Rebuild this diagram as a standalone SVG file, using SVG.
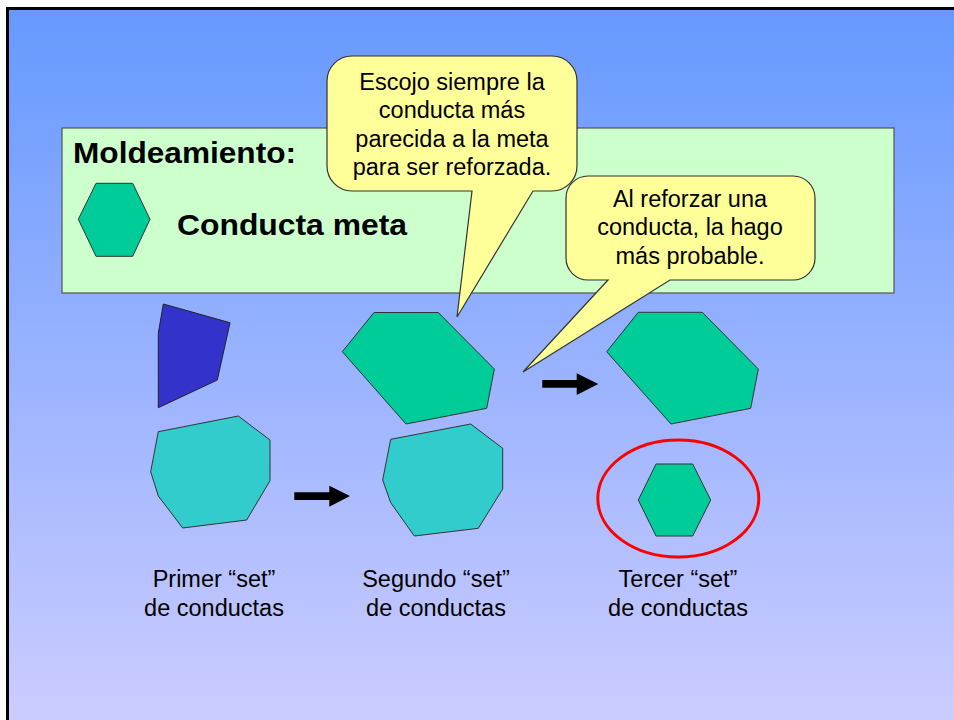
<svg xmlns="http://www.w3.org/2000/svg" width="954" height="720" viewBox="0 0 954 720">
<defs>
<linearGradient id="bg" x1="0" y1="0" x2="0" y2="1">
<stop offset="0" stop-color="#6699FF"/>
<stop offset="1" stop-color="#CCCCFF"/>
</linearGradient>
</defs>
<style>
.t{font-family:"Liberation Sans",Arial,sans-serif;fill:#000}
.call{font-size:23.5px;text-anchor:middle}
.lab{font-size:23.5px;text-anchor:middle}
.hex{fill:#00CC99;stroke:#333333;stroke-width:1}
.cyan{fill:#33CCCC;stroke:#333333;stroke-width:1}
.bubble{fill:#FFFF99;stroke:#333333;stroke-width:1.2}
.arrow{fill:#000}
</style>
<rect x="0" y="0" width="954" height="720" fill="#FFFFFF"/>
<rect x="7.5" y="8.5" width="946.5" height="711.5" fill="url(#bg)"/>
<path d="M7.5,720 V8.5 H954" fill="none" stroke="#000" stroke-width="3"/>

<g id="header">
<rect x="62" y="128" width="832" height="165" fill="#CCFFCC" stroke="#555555" stroke-width="1.2"/>
<text class="t" x="73" y="163" font-size="30" font-weight="bold" textLength="223" lengthAdjust="spacingAndGlyphs">Moldeamiento:</text>
<polygon class="hex" points="78.3,219.3 96,183.3 132.7,183.3 150,219.3 132.7,256.3 96,256.3"/>
<text class="t" x="177" y="235" font-size="30" font-weight="bold" textLength="230" lengthAdjust="spacingAndGlyphs">Conducta meta</text>
</g>

<g id="shape-blue">
<polygon points="163.3,304 230,322.7 217.3,380 158.3,407.7 158.3,333.3" fill="#3333CC" stroke="#222222" stroke-width="1"/>
</g>
<g id="shape-cyan-1">
<polygon class="cyan" points="158.3,431.7 238.3,416 270,440 270,480.7 246.7,520 182.7,528 158.3,496 150.7,471.7"/>
</g>
<g id="shape-green-1">
<polygon class="hex" points="342.3,351.7 374,312.5 438.3,312.5 494.3,369 486.7,408.3 406,424"/>
</g>
<g id="shape-cyan-2">
<polygon class="cyan" points="390.7,439.3 470.7,424 502.7,448.3 502.7,489 478.3,528.3 414.3,536 390.7,502.7 382.7,480"/>
</g>
<g id="shape-green-2">
<polygon class="hex" points="606.7,351.7 638.3,312.3 702.3,312.3 758.3,369 750.7,408.3 671,424"/>
</g>
<g id="target-circled">
<ellipse cx="678.3" cy="498.5" rx="80.5" ry="58.5" fill="none" stroke="#FF0000" stroke-width="3"/>
<polygon class="hex" points="638.3,500 656,464 692.7,464 710.7,500 692.7,536 656,536"/>
</g>

<g id="connectors">
<polygon class="arrow" points="294.3,492.3 329.3,492.3 329.3,485.7 350,496 329.3,506.7 329.3,500 294.3,500"/>
<polygon class="arrow" points="542.3,380 576.7,380 576.7,373.3 598.3,384 576.7,395 576.7,387.7 542.3,387.7"/>
</g>

<g id="callout-1">
<path class="bubble" d="M352,56 H552 A25,25 0 0 1 577,81 V166 A25,25 0 0 1 552,191 H533 L457,317 L472,191 H352 A25,25 0 0 1 327,166 V81 A25,25 0 0 1 352,56 Z"/>
<text class="t call" x="452" y="90">Escojo siempre la</text>
<text class="t call" x="452" y="118">conducta más</text>
<text class="t call" x="452" y="147">parecida a la meta</text>
<text class="t call" x="452" y="175">para ser reforzada.</text>
</g>

<g id="callout-2">
<path class="bubble" d="M588,176 H793 A22,22 0 0 1 815,198 V258 A22,22 0 0 1 793,280 H670 L523,372 L608,280 H588 A22,22 0 0 1 566,258 V198 A22,22 0 0 1 588,176 Z"/>
<text class="t call" x="690" y="207">Al reforzar una</text>
<text class="t call" x="690" y="235">conducta, la hago</text>
<text class="t call" x="690" y="264">más probable.</text>
</g>

<g id="labels">
<text class="t lab" x="214" y="587">Primer “set”</text>
<text class="t lab" x="214" y="616">de conductas</text>
<text class="t lab" x="436" y="587">Segundo “set”</text>
<text class="t lab" x="436" y="616">de conductas</text>
<text class="t lab" x="678" y="587">Tercer “set”</text>
<text class="t lab" x="678" y="616">de conductas</text>
</g>
</svg>
